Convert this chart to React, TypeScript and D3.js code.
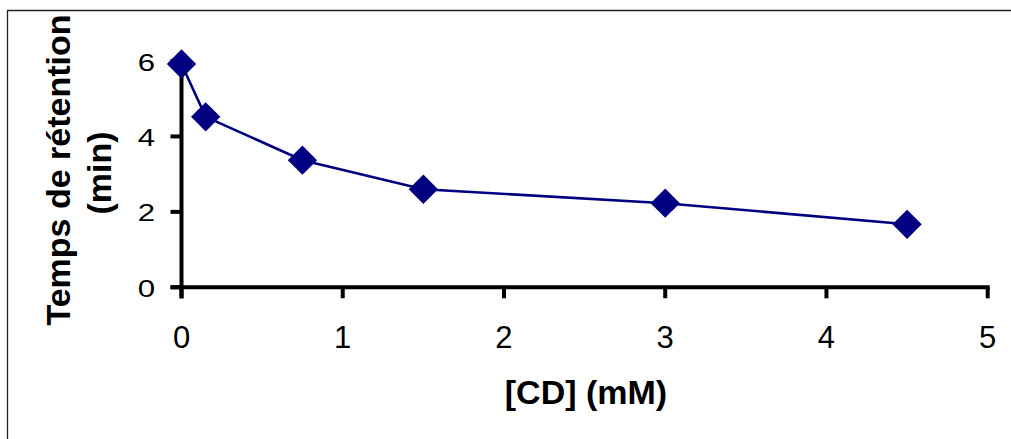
import React from "react";
import * as d3 from "d3";

const xValues = [0, 0.15, 0.75, 1.5, 3, 4.5];
const yValues = [5.92, 4.52, 3.37, 2.6, 2.23, 1.67];
const xTicks = [0, 1, 2, 3, 4, 5];
const yTicks = [0, 2, 4, 6];
const xTitle = "[CD] (mM)";
const yTitleLines = ["Temps de rétention", "(min)"];

const W = 1011;
const H = 439;

export default function App() {
  const x = d3.scaleLinear().domain([0, 5]).range([181.5, 987.7]);
  const y = d3.scaleLinear().domain([0, 6]).range([287.3, 61]);
  const data = xValues.map((v, i) => ({ x: v, y: yValues[i] }));
  const line = d3
    .line<{ x: number; y: number }>()
    .x((d) => x(d.x))
    .y((d) => y(d.y));
  const sym = d3.symbol().type(d3.symbolSquare).size(430)();
  const font = "'Liberation Sans', Arial, sans-serif";
  const navy = "#000080";
  return (
    <svg
      width={W}
      height={H}
      style={{ position: "absolute", left: 0, top: 0, background: "#fff" }}
    >
      <rect x={0} y={0} width={W} height={H} fill="#fff" />
      {/* border (only top and left visible) */}
      <path d={`M7.5,${H}V10.5H${W}`} fill="none" stroke="#222" strokeWidth={1.3} />

      {/* axes */}
      <g stroke="#000" strokeWidth={4} strokeLinecap="butt" fill="none">
        <line x1={x(0)} x2={x(0)} y1={y(6)} y2={y(0) + 11} />
        <line x1={x(0) - 11} x2={x(5) + 2} y1={y(0)} y2={y(0)} />
        {xTicks.map((t) => (
          <line key={"xt" + t} x1={x(t)} x2={x(t)} y1={y(0)} y2={y(0) + 11} />
        ))}
        {yTicks.map((t) => (
          <line key={"yt" + t} x1={x(0) - 11} x2={x(0)} y1={y(t)} y2={y(t)} />
        ))}
      </g>

      {/* tick labels */}
      <g fontFamily={font} fill="#000">
        {xTicks.map((t) => (
          <text
            key={"xl" + t}
            x={x(t)}
            y={347.5}
            textAnchor="middle"
            fontSize={31}
          >
            {t}
          </text>
        ))}
        {yTicks.map((t) => (
          <text
            key={"yl" + t}
            transform={`translate(${155},${y(t) + 9.6}) scale(1.3,1)`}
            textAnchor="end"
            fontSize={24}
          >
            {t}
          </text>
        ))}
      </g>

      {/* series */}
      <path d={line(data) || ""} fill="none" stroke={navy} strokeWidth={2.6} />
      {data.map((d, i) => (
        <path
          key={"p" + i}
          d={sym || ""}
          transform={`translate(${x(d.x)},${y(d.y)}) rotate(45)`}
          fill={navy}
        />
      ))}

      {/* titles */}
      <text
        x={586}
        y={404}
        textAnchor="middle"
        fontFamily={font}
        fontWeight="bold"
        fontSize={34}
      >
        {xTitle}
      </text>
      <text
        transform={`translate(70,170) rotate(-90)`}
        textAnchor="middle"
        fontFamily={font}
        fontWeight="bold"
        fontSize={34}
      >
        {yTitleLines[0]}
      </text>
      <text
        transform={`translate(111,173) rotate(-90)`}
        textAnchor="middle"
        fontFamily={font}
        fontWeight="bold"
        fontSize={34}
      >
        {yTitleLines[1]}
      </text>
    </svg>
  );
}
